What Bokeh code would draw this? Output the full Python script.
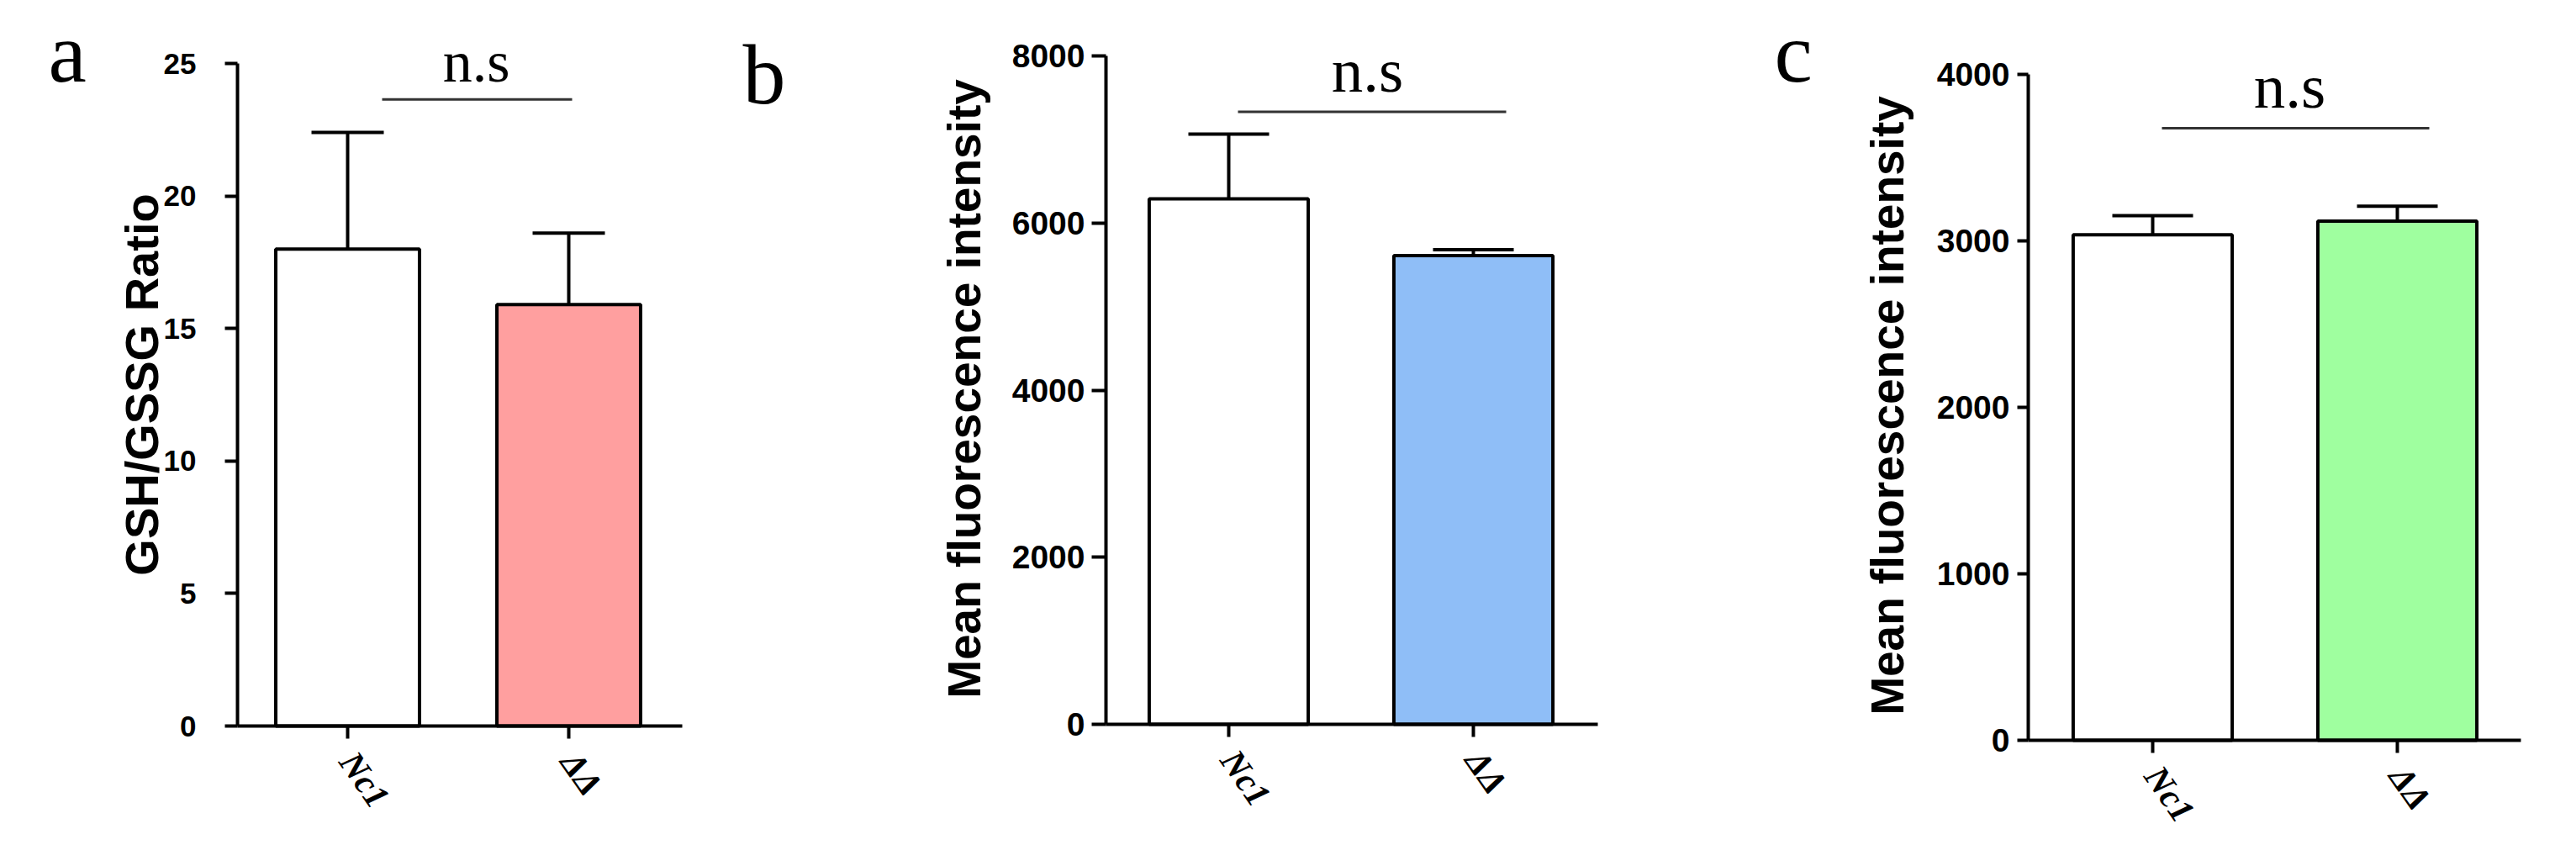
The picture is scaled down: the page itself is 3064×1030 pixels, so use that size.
import math
from bokeh.plotting import figure
from bokeh.models import ColumnDataSource, Whisker, TeeHead, Label, Range1d
from bokeh.layouts import row
from bokeh.embed import file_html
from bokeh.resources import INLINE

# ---------------- data ----------------
categories = ["Nc1", "ΔΔ"]

# panel a: GSH/GSSG ratio (mean, upper error)
gsh_mean = [18.0, 15.9]
gsh_err = [4.4, 2.7]
# panel b: mean fluorescence intensity
mfi_b_mean = [6290, 5610]
mfi_b_err = [775, 70]
# panel c: mean fluorescence intensity
mfi_c_mean = [3036, 3119]
mfi_c_err = [116, 89]

yticks_a = [0, 5, 10, 15, 20, 25]
yticks_b = [0, 2000, 4000, 6000, 8000]
yticks_c = [0, 1000, 2000, 3000, 4000]

colors_a = ["#FFFFFF", "#FF9F9F"]
colors_b = ["#FFFFFF", "#8FBEF7"]
colors_c = ["#FFFFFF", "#9FFF9F"]

ylabel_a = "GSH/GSSG Ratio"
ylabel_b = "Mean fluorescence intensity"
ylabel_c = "Mean fluorescence intensity"

sig_text = "n.s"
sig_level_a = 23.64
sig_level_b = 7330
sig_level_c = 3677

SANS = "Liberation Sans"
SERIF = "Liberation Serif"
H = 1026


def panel(values, errors, colors, yticks, ylabel, sig_level, letter, cfg):
    W = cfg["W"]
    x0 = cfg["fig_x0"]
    c1, c2 = cfg["c1"], cfg["c2"]
    u = c2 - c1

    def dx(px):  # page pixel -> data x (category i at position i+1)
        return 1 + (px - c1) / u

    Z, T = cfg["zero_px"], cfg["top_px"]
    top = yticks[-1]
    k = (Z - T) / top

    def dy(py):  # page pixel -> data y
        return (Z - py) / k

    p = figure(width=W, height=H, output_backend="svg", toolbar_location=None,
               x_range=Range1d(dx(x0), dx(x0 + W)),
               y_range=Range1d(dy(H), dy(0)),
               min_border_left=0, min_border_right=0,
               min_border_top=0, min_border_bottom=0)
    p.outline_line_color = None
    p.xgrid.visible = False
    p.ygrid.visible = False
    p.background_fill_color = "white"
    p.border_fill_color = "white"

    xpos = [i + 1 for i in range(len(categories))]
    tops = [v + e for v, e in zip(values, errors)]
    src = ColumnDataSource(dict(x=xpos, val=values, top=tops, color=colors))
    p.vbar(x="x", top="val", bottom=0, width=0.65, source=src,
           fill_color="color", line_color="black", line_width=4)
    p.add_layout(Whisker(base="x", upper="top", lower="val", source=src,
                         dimension="height", line_color="black", line_width=4,
                         upper_head=TeeHead(size=cfg["cap"], line_color="black", line_width=4),
                         lower_head=None))

    # significance bracket
    p.segment(x0=[dx(cfg["sig_px"][0])], x1=[dx(cfg["sig_px"][1])],
              y0=[sig_level], y1=[sig_level], line_color="#333333", line_width=3)
    p.add_layout(Label(x=dx(cfg["ns_px"][0]), y=dy(cfg["ns_px"][1]), text=sig_text,
                       text_align="center", text_baseline="alphabetic", text_font=SERIF,
                       text_font_size=f"{cfg['ns_font']}px", text_color="black"))
    # panel letter
    p.add_layout(Label(x=dx(cfg["let_px"][0]), y=dy(cfg["let_px"][1]), text=letter,
                       text_align="left", text_baseline="alphabetic", text_font=SERIF,
                       text_font_size="102px", text_color="black"))
    # y axis title (rotated)
    p.add_layout(Label(x=dx(cfg["ylab_px"][0]), y=dy(cfg["ylab_px"][1]), text=ylabel,
                       angle=math.pi / 2, text_align="center", text_baseline="alphabetic",
                       text_font=SANS, text_font_style="bold",
                       text_font_size=f"{cfg['label_font']}px", text_color="black"))

    # y axis
    ya = p.yaxis[0]
    ya.fixed_location = dx(cfg["yaxis_px"])
    ya.bounds = (0, top)
    ya.ticker = yticks
    ya.axis_line_width = 4
    ya.axis_line_color = "black"
    ya.major_tick_line_width = 4
    ya.major_tick_line_color = "black"
    ya.major_tick_out = cfg["tick_out"]
    ya.major_tick_in = 0
    ya.minor_tick_line_color = None
    ya.major_label_text_font = SANS
    ya.major_label_text_font_style = "bold"
    ya.major_label_text_font_size = f"{cfg['tick_font']}px"
    ya.major_label_text_color = "black"
    ya.major_label_standoff = cfg["tick_standoff"]

    # x axis
    xa = p.xaxis[0]
    xa.fixed_location = 0
    xa.bounds = (dx(cfg["yaxis_px"]), dx(cfg["xend_px"]))
    xa.ticker = xpos
    xa.major_label_overrides = {x: c for x, c in zip(xpos, categories)}
    xa.axis_line_width = 4
    xa.axis_line_color = "black"
    xa.major_tick_line_width = 4
    xa.major_tick_line_color = "black"
    xa.major_tick_out = 15
    xa.major_tick_in = 0
    xa.minor_tick_line_color = None
    xa.major_label_orientation = -0.96
    xa.major_label_text_font = SERIF
    xa.major_label_text_font_style = "bold italic"
    xa.major_label_text_font_size = "42px"
    xa.major_label_text_color = "black"
    xa.major_label_standoff = 20
    return p


cfg_a = dict(W=870, fig_x0=0, c1=413, c2=676, yaxis_px=282, xend_px=811,
             zero_px=863, top_px=75, tick_out=15, tick_standoff=34, tick_font=35,
             cap=86, sig_px=(454, 680), ns_px=(566, 73), ns_font=70,
             let_px=(57, 62), ylab_px=(168, 457), label_font=56)
cfg_b = dict(W=1180, fig_x0=870, c1=1461, c2=1752, yaxis_px=1315, xend_px=1900,
             zero_px=861, top_px=66, tick_out=17, tick_standoff=8, tick_font=39,
             cap=96, sig_px=(1472, 1791), ns_px=(1626, 83), ns_font=75,
             let_px=(883, 88), ylab_px=(1146, 462), label_font=55)
cfg_c = dict(W=1010, fig_x0=2050, c1=2560, c2=2851, yaxis_px=2412, xend_px=2998,
             zero_px=880, top_px=88, tick_out=13, tick_standoff=9, tick_font=39,
             cap=96, sig_px=(2571, 2889), ns_px=(2723, 102), ns_font=75,
             let_px=(2110, 62), ylab_px=(2244, 482), label_font=55)

pa = panel(gsh_mean, gsh_err, colors_a, yticks_a, ylabel_a, sig_level_a, "a", cfg_a)
pb = panel(mfi_b_mean, mfi_b_err, colors_b, yticks_b, ylabel_b, sig_level_b, "b", cfg_b)
pc = panel(mfi_c_mean, mfi_c_err, colors_c, yticks_c, ylabel_c, sig_level_c, "c", cfg_c)

layout = row(pa, pb, pc)
open("out.html", "w").write(file_html(layout, INLINE))
